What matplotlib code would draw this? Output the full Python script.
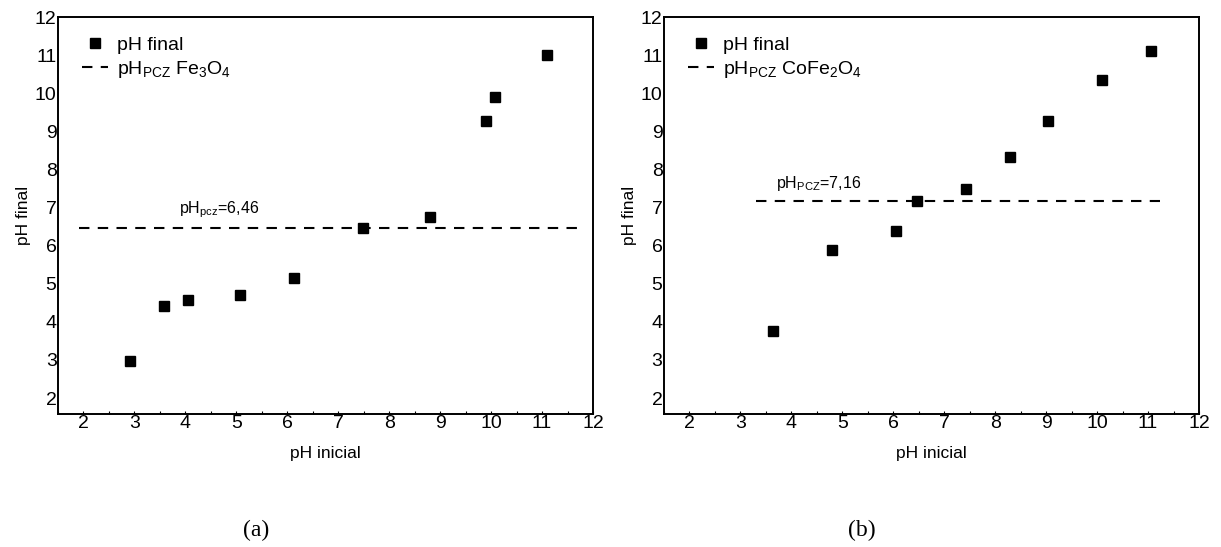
import matplotlib
matplotlib.use('Agg')
import matplotlib.pyplot as plt
from matplotlib.ticker import MultipleLocator

plt.rcParams['font.family'] = ['Liberation Sans', 'DejaVu Sans']
plt.rcParams['mathtext.fontset'] = 'custom'
plt.rcParams['mathtext.rm'] = 'Liberation Sans'
plt.rcParams['mathtext.it'] = 'Liberation Sans:italic'

# dados (a) Fe3O4
ph_ini_a = [2.91, 3.59, 4.05, 5.08, 6.14, 7.49, 8.80, 9.89, 10.07, 11.10]
ph_fin_a = [2.96, 4.41, 4.57, 4.70, 5.16, 6.47, 6.74, 9.28, 9.89, 11.01]
pcz_a = 6.46
pcz_a_span = [1.92, 11.75]

# dados (b) CoFe2O4
ph_ini_b = [3.64, 4.80, 6.05, 6.46, 7.43, 8.30, 9.03, 10.10, 11.06]
ph_fin_b = [3.75, 5.89, 6.39, 7.17, 7.48, 8.33, 9.26, 10.34, 11.11]
pcz_b = 7.16
pcz_b_span = [3.30, 11.23]

ticks = list(range(2, 13))

fig = plt.figure(figsize=(12.21, 5.47), dpi=100)
ax_a = fig.add_axes([0.0475, 0.2431, 0.4382, 0.7258])
ax_b = fig.add_axes([0.5438, 0.2431, 0.4382, 0.7258])


def desenha(ax, x, y, pcz, span, leg_label, ann_text, ann_xy):
    ax.plot(x, y, 's', color='black', markersize=6.5, label='pH final')
    ax.plot(span, [pcz, pcz], '--', color='black', lw=1.5,
            dashes=(5, 4), label=leg_label)
    ax.set_xlim(1.5, 12)
    ax.set_ylim(1.58, 12)
    ax.set_xticks(ticks)
    ax.set_yticks(ticks)
    ax.xaxis.set_minor_locator(MultipleLocator(0.5))
    ax.tick_params(which='both', direction='in', length=2, width=0.8,
                   labelsize=14, pad=1)
    ax.tick_params(axis='y', which='both', length=0)
    for s in ax.spines.values():
        s.set_linewidth(1.4)
    ax.set_xlabel('pH inicial', fontsize=12.5, labelpad=10)
    ax.set_ylabel('pH final', fontsize=12.5, labelpad=3)
    ax.text(ann_xy[0], ann_xy[1], ann_text, fontsize=11.5)
    ax.legend(loc='upper left', frameon=False, fontsize=14,
              handlelength=1.3, handletextpad=0.5, labelspacing=0.25,
              borderaxespad=0.3, bbox_to_anchor=(0.02, 0.985))


desenha(ax_a, ph_ini_a, ph_fin_a, pcz_a, pcz_a_span,
        r'pH$_{\mathregular{PCZ}}$ Fe$_3$O$_4$',
        r'pH$_{\mathregular{pcz}}$=6,46', (3.87, 6.85))
desenha(ax_b, ph_ini_b, ph_fin_b, pcz_b, pcz_b_span,
        r'pH$_{\mathregular{PCZ}}$ CoFe$_2$O$_4$',
        r'pH$_{\mathregular{PCZ}}$=7,16', (3.70, 7.50))

fig.text(0.21, 0.031, '(a)', family='Liberation Serif', fontsize=17,
         ha='center', va='center')
fig.text(0.706, 0.031, '(b)', family='Liberation Serif', fontsize=17,
         ha='center', va='center')

fig.savefig('out.png', dpi=100)
